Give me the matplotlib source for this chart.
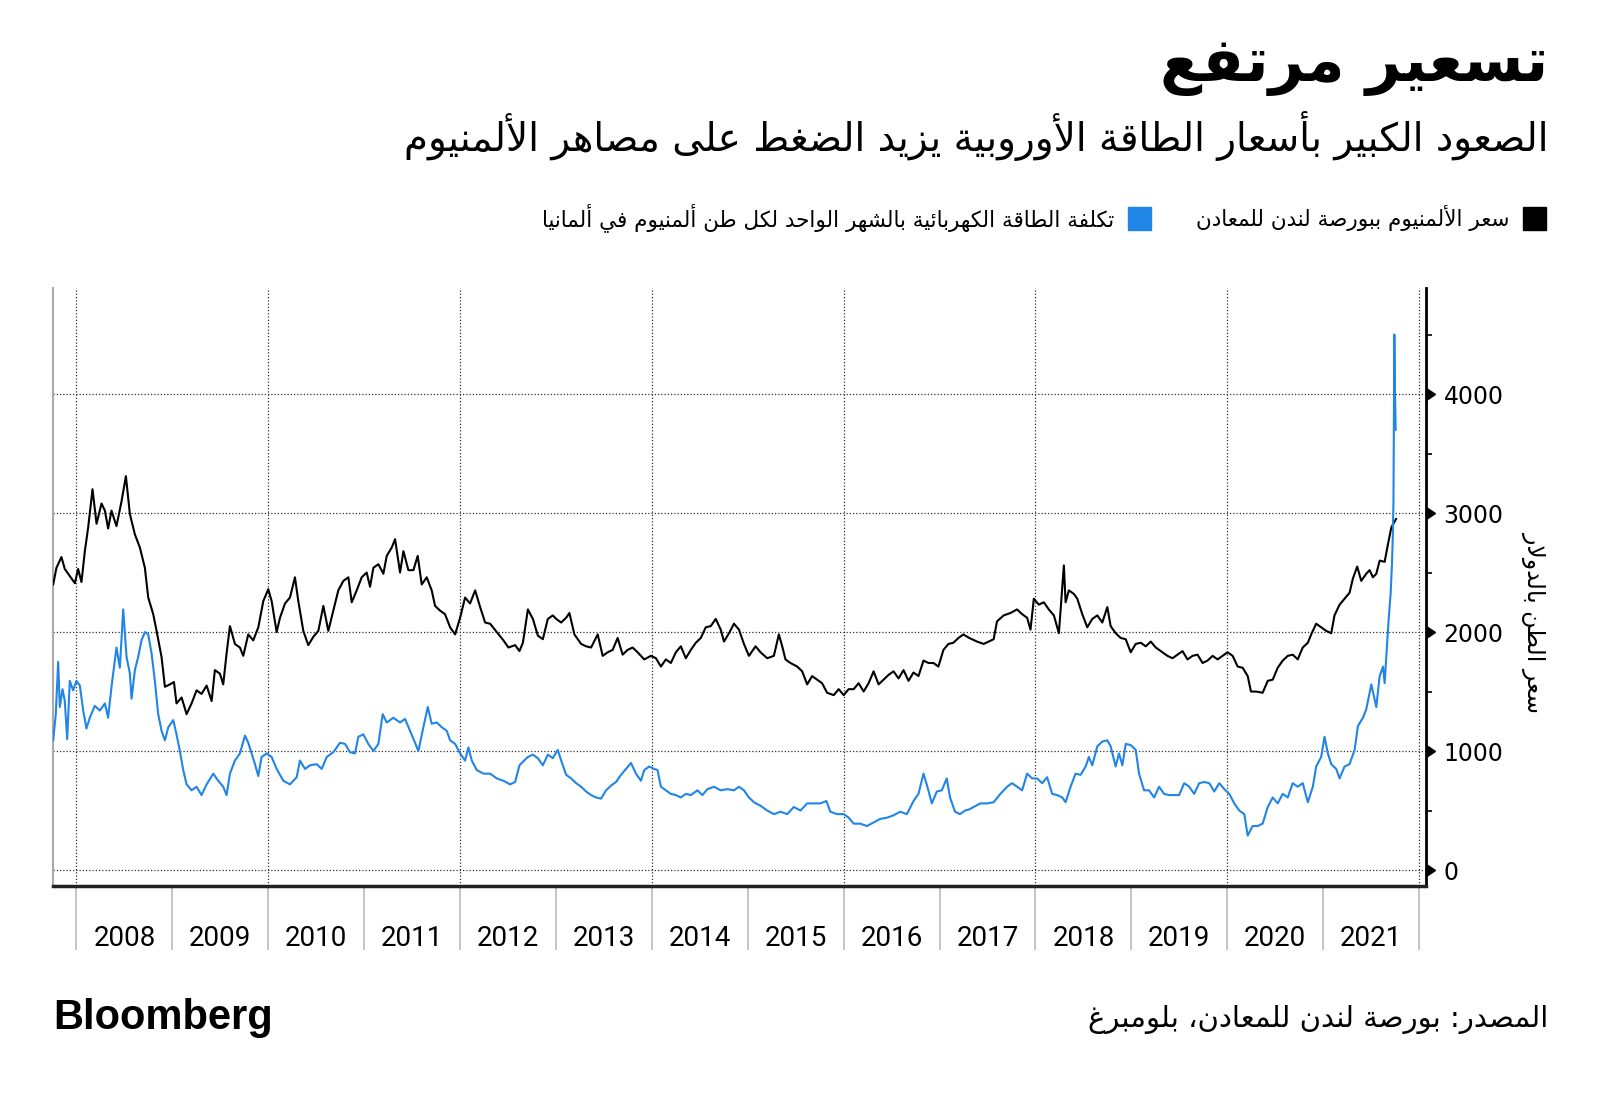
import unicodedata
import numpy as np
import matplotlib
matplotlib.use("Agg")
import matplotlib.pyplot as plt
from matplotlib.markers import CARETRIGHTBASE
from matplotlib.patches import Rectangle

# ===============================
# Data (dates as decimal years)
# ===============================
alu_t = [2007.757, 2007.791, 2007.843, 2007.878, 2007.930, 2007.983, 2008.017, 2008.052, 2008.087, 2008.122,
         2008.167, 2008.209, 2008.261, 2008.296, 2008.330, 2008.365, 2008.417, 2008.470, 2008.515, 2008.557,
         2008.609, 2008.661, 2008.713, 2008.748, 2008.800, 2008.835, 2008.887, 2008.922, 2008.974, 2009.016,
         2009.043, 2009.096, 2009.148, 2009.200, 2009.252, 2009.304, 2009.357, 2009.409, 2009.443, 2009.496,
         2009.530, 2009.565, 2009.600, 2009.652, 2009.704, 2009.739, 2009.791, 2009.843, 2009.896, 2009.948,
         2010.000, 2010.035, 2010.087, 2010.122, 2010.174, 2010.226, 2010.278, 2010.313, 2010.365, 2010.417,
         2010.470, 2010.522, 2010.574, 2010.626, 2010.678, 2010.730, 2010.783, 2010.835, 2010.870, 2010.922,
         2010.974, 2011.026, 2011.061, 2011.096, 2011.148, 2011.200, 2011.235, 2011.287, 2011.322, 2011.374,
         2011.409, 2011.461, 2011.513, 2011.558, 2011.600, 2011.652, 2011.704, 2011.739, 2011.791, 2011.843,
         2011.896, 2011.948, 2012.000, 2012.052, 2012.104, 2012.157, 2012.209, 2012.261, 2012.313, 2012.383,
         2012.452, 2012.504, 2012.574, 2012.619, 2012.655, 2012.707, 2012.759, 2012.811, 2012.863, 2012.915,
         2012.967, 2013.002, 2013.054, 2013.106, 2013.140, 2013.192, 2013.262, 2013.314, 2013.366, 2013.435,
         2013.487, 2013.539, 2013.591, 2013.643, 2013.695, 2013.747, 2013.799, 2013.851, 2013.920, 2013.990,
         2014.042, 2014.094, 2014.146, 2014.198, 2014.250, 2014.302, 2014.354, 2014.406, 2014.458, 2014.510,
         2014.562, 2014.614, 2014.666, 2014.718, 2014.752, 2014.804, 2014.856, 2014.908, 2014.960, 2015.012,
         2015.081, 2015.133, 2015.203, 2015.272, 2015.324, 2015.359, 2015.393, 2015.445, 2015.515, 2015.567,
         2015.619, 2015.671, 2015.723, 2015.775, 2015.827, 2015.896, 2015.948, 2016.000, 2016.052, 2016.104,
         2016.156, 2016.208, 2016.260, 2016.312, 2016.364, 2016.416, 2016.468, 2016.520, 2016.572, 2016.624,
         2016.676, 2016.728, 2016.780, 2016.832, 2016.884, 2016.936, 2016.988, 2017.040, 2017.092, 2017.144,
         2017.196, 2017.248, 2017.310, 2017.390, 2017.460, 2017.512, 2017.564, 2017.599, 2017.669, 2017.739,
         2017.808, 2017.861, 2017.913, 2017.948, 2017.983, 2018.035, 2018.087, 2018.139, 2018.192, 2018.244,
         2018.272, 2018.296, 2018.314, 2018.348, 2018.401, 2018.436, 2018.488, 2018.540, 2018.592, 2018.645,
         2018.697, 2018.749, 2018.784, 2018.836, 2018.889, 2018.941, 2018.993, 2019.045, 2019.098, 2019.150,
         2019.202, 2019.254, 2019.307, 2019.376, 2019.429, 2019.481, 2019.533, 2019.585, 2019.638, 2019.690,
         2019.742, 2019.794, 2019.847, 2019.899, 2019.951, 2020.003, 2020.056, 2020.108, 2020.160, 2020.213,
         2020.247, 2020.300, 2020.369, 2020.422, 2020.474, 2020.526, 2020.578, 2020.631, 2020.683, 2020.735,
         2020.787, 2020.840, 2020.875, 2020.927, 2020.979, 2021.031, 2021.084, 2021.118, 2021.171, 2021.223,
         2021.275, 2021.310, 2021.355, 2021.397, 2021.449, 2021.484, 2021.519, 2021.554, 2021.589, 2021.641,
         2021.676, 2021.711, 2021.746, 2021.760]
alu_price = [2400, 2540, 2630, 2530, 2470, 2410, 2530, 2420, 2680, 2880,
             3200, 2910, 3080, 3020, 2870, 3020, 2890, 3100, 3310, 2990,
             2820, 2710, 2540, 2290, 2150, 2010, 1790, 1540, 1560, 1580,
             1400, 1450, 1310, 1400, 1510, 1480, 1550, 1420, 1680, 1650,
             1560, 1820, 2050, 1900, 1870, 1800, 1980, 1930, 2040, 2260,
             2360, 2260, 2000, 2120, 2240, 2290, 2460, 2260, 2010, 1890,
             1960, 2010, 2220, 2010, 2180, 2350, 2430, 2460, 2250, 2350,
             2460, 2500, 2380, 2540, 2570, 2490, 2640, 2710, 2780, 2500,
             2680, 2520, 2520, 2640, 2400, 2460, 2350, 2220, 2180, 2150,
             2040, 1980, 2120, 2290, 2240, 2350, 2210, 2080, 2070, 2000,
             1930, 1870, 1890, 1840, 1910, 2190, 2110, 1970, 1940, 2110,
             2140, 2110, 2080, 2120, 2160, 1980, 1900, 1880, 1870, 1980,
             1800, 1830, 1850, 1950, 1810, 1850, 1870, 1830, 1770, 1800,
             1780, 1710, 1770, 1740, 1830, 1880, 1780, 1850, 1910, 1950,
             2040, 2050, 2110, 2020, 1920, 1990, 2070, 2020, 1900, 1800,
             1880, 1830, 1780, 1800, 1980, 1880, 1770, 1740, 1710, 1670,
             1560, 1630, 1600, 1570, 1490, 1470, 1520, 1470, 1520, 1520,
             1570, 1500, 1570, 1670, 1560, 1600, 1640, 1670, 1610, 1680,
             1590, 1660, 1630, 1760, 1740, 1740, 1710, 1850, 1900, 1910,
             1950, 1980, 1950, 1920, 1900, 1920, 1940, 2090, 2140, 2160,
             2190, 2150, 2120, 2020, 2280, 2230, 2250, 2190, 2140, 1990,
             2300, 2560, 2250, 2350, 2320, 2280, 2150, 2040, 2110, 2140,
             2080, 2210, 2050, 1990, 1950, 1940, 1830, 1900, 1910, 1880,
             1920, 1870, 1840, 1800, 1780, 1810, 1840, 1770, 1800, 1810,
             1740, 1760, 1800, 1770, 1800, 1830, 1800, 1710, 1700, 1630,
             1500, 1500, 1490, 1590, 1600, 1700, 1760, 1800, 1810, 1770,
             1870, 1910, 1980, 2070, 2040, 2010, 1990, 2140, 2230, 2280,
             2330, 2450, 2550, 2430, 2490, 2520, 2460, 2490, 2600, 2590,
             2740, 2880, 2930, 2950]

power_t = [2007.757, 2007.784, 2007.809, 2007.826, 2007.854, 2007.878, 2007.903, 2007.930, 2007.965, 2008.000,
           2008.035, 2008.070, 2008.104, 2008.139, 2008.191, 2008.243, 2008.296, 2008.330, 2008.365, 2008.417,
           2008.452, 2008.487, 2008.522, 2008.557, 2008.574, 2008.609, 2008.643, 2008.678, 2008.713, 2008.748,
           2008.783, 2008.817, 2008.852, 2008.887, 2008.922, 2008.957, 2009.009, 2009.043, 2009.078, 2009.113,
           2009.148, 2009.200, 2009.252, 2009.304, 2009.357, 2009.426, 2009.478, 2009.530, 2009.565, 2009.600,
           2009.652, 2009.704, 2009.757, 2009.791, 2009.826, 2009.861, 2009.896, 2009.930, 2009.983, 2010.035,
           2010.087, 2010.157, 2010.226, 2010.296, 2010.330, 2010.383, 2010.435, 2010.504, 2010.557, 2010.609,
           2010.678, 2010.748, 2010.800, 2010.852, 2010.904, 2010.939, 2010.991, 2011.043, 2011.096, 2011.148,
           2011.193, 2011.235, 2011.304, 2011.374, 2011.426, 2011.478, 2011.530, 2011.565, 2011.617, 2011.663,
           2011.704, 2011.757, 2011.809, 2011.861, 2011.896, 2011.948, 2012.000, 2012.052, 2012.087, 2012.122,
           2012.174, 2012.243, 2012.313, 2012.383, 2012.452, 2012.522, 2012.574, 2012.619, 2012.655, 2012.707,
           2012.759, 2012.811, 2012.863, 2012.915, 2012.967, 2013.019, 2013.054, 2013.106, 2013.158, 2013.210,
           2013.262, 2013.314, 2013.366, 2013.418, 2013.470, 2013.522, 2013.574, 2013.626, 2013.678, 2013.730,
           2013.782, 2013.834, 2013.886, 2013.920, 2013.972, 2014.024, 2014.059, 2014.094, 2014.146, 2014.198,
           2014.250, 2014.302, 2014.354, 2014.406, 2014.475, 2014.527, 2014.579, 2014.648, 2014.718, 2014.787,
           2014.856, 2014.908, 2014.960, 2015.012, 2015.064, 2015.133, 2015.203, 2015.272, 2015.341, 2015.411,
           2015.480, 2015.549, 2015.619, 2015.688, 2015.757, 2015.820, 2015.861, 2015.931, 2016.000, 2016.052,
           2016.104, 2016.173, 2016.243, 2016.312, 2016.381, 2016.451, 2016.520, 2016.589, 2016.659, 2016.728,
           2016.780, 2016.832, 2016.873, 2016.919, 2016.971, 2017.023, 2017.075, 2017.109, 2017.161, 2017.213,
           2017.265, 2017.310, 2017.355, 2017.425, 2017.495, 2017.564, 2017.634, 2017.704, 2017.756, 2017.808,
           2017.861, 2017.913, 2017.965, 2018.017, 2018.070, 2018.122, 2018.174, 2018.226, 2018.279, 2018.314,
           2018.366, 2018.418, 2018.470, 2018.523, 2018.557, 2018.592, 2018.645, 2018.697, 2018.749, 2018.784,
           2018.836, 2018.871, 2018.906, 2018.941, 2018.993, 2019.045, 2019.080, 2019.132, 2019.185, 2019.237,
           2019.289, 2019.341, 2019.394, 2019.446, 2019.498, 2019.551, 2019.603, 2019.655, 2019.707, 2019.760,
           2019.812, 2019.864, 2019.916, 2019.969, 2020.021, 2020.073, 2020.125, 2020.178, 2020.213, 2020.265,
           2020.317, 2020.369, 2020.422, 2020.474, 2020.526, 2020.578, 2020.631, 2020.683, 2020.735, 2020.787,
           2020.840, 2020.892, 2020.927, 2020.979, 2021.014, 2021.049, 2021.084, 2021.136, 2021.171, 2021.223,
           2021.275, 2021.328, 2021.362, 2021.415, 2021.449, 2021.502, 2021.554, 2021.589, 2021.624, 2021.641,
           2021.659, 2021.683, 2021.704, 2021.718, 2021.726, 2021.733, 2021.742, 2021.749, 2021.756]
power_cost = [1090, 1310, 1750, 1370, 1520, 1420, 1100, 1590, 1510, 1590,
              1550, 1340, 1190, 1280, 1380, 1340, 1400, 1280, 1540, 1870,
              1700, 2190, 1790, 1650, 1440, 1680, 1790, 1930, 2000, 1980,
              1820, 1590, 1310, 1170, 1090, 1200, 1260, 1140, 1000, 840,
              720, 670, 700, 630, 720, 810, 750, 700, 630, 810,
              920, 980, 1130, 1070, 980, 890, 790, 950, 980, 950,
              850, 750, 720, 780, 920, 850, 880, 890, 850, 950,
              990, 1070, 1060, 990, 980, 1120, 1140, 1060, 1000, 1060,
              1310, 1240, 1280, 1240, 1270, 1170, 1070, 1000, 1200, 1370,
              1230, 1240, 1200, 1170, 1090, 1060, 980, 920, 1030, 920,
              840, 810, 810, 770, 750, 720, 740, 880, 910, 950,
              970, 940, 880, 970, 940, 1010, 920, 800, 770, 730,
              700, 660, 630, 610, 600, 670, 710, 740, 800, 850,
              900, 810, 750, 840, 870, 850, 840, 700, 670, 640,
              630, 610, 640, 630, 670, 630, 680, 700, 670, 680,
              670, 700, 670, 610, 570, 540, 500, 470, 490, 470,
              530, 500, 560, 560, 560, 580, 490, 470, 470, 440,
              390, 390, 370, 400, 430, 440, 460, 490, 470, 580,
              640, 810, 700, 560, 660, 670, 770, 610, 490, 470,
              500, 510, 530, 560, 560, 570, 640, 700, 730, 700,
              670, 810, 770, 770, 730, 780, 640, 630, 610, 570,
              700, 810, 800, 870, 950, 880, 1040, 1080, 1090, 1040,
              870, 980, 880, 1060, 1050, 1010, 810, 670, 670, 610,
              700, 640, 630, 630, 630, 730, 700, 640, 730, 740,
              730, 660, 730, 680, 640, 560, 500, 470, 290, 370,
              370, 390, 530, 610, 560, 640, 610, 730, 700, 730,
              570, 700, 870, 950, 1120, 980, 890, 850, 770, 870,
              890, 1010, 1210, 1280, 1350, 1560, 1370, 1630, 1710, 1570,
              1800, 2110, 2330, 2590, 2800, 3100, 4500, 4000, 3700]

years = list(range(2008, 2022))
year_labels = [str(y) for y in years]
y_ticks = [0, 1000, 2000, 3000, 4000]

title = "تسعير مرتفع"
subtitle = "الصعود الكبير بأسعار الطاقة الأوروبية يزيد الضغط على مصاهر الألمنيوم"
legend_alu = "سعر الألمنيوم ببورصة لندن للمعادن"
legend_power = "تكلفة الطاقة الكهربائية بالشهر الواحد لكل طن ألمنيوم في ألمانيا"
y_label = "سعر الطن بالدولار"
source = "المصدر: بورصة لندن للمعادن، بلومبرغ"

BLUE = "#2185e6"

# ===============================
# Arabic shaping (presentation forms + right-to-left order)
# ===============================
FORMS, LAMALEF = {}, {}
for cp in range(0xFE70, 0xFEFD):
    dec = unicodedata.decomposition(chr(cp))
    if not dec.startswith("<"):
        continue
    tag, *codes = dec.split()
    base = "".join(chr(int(c, 16)) for c in codes)
    tag = tag.strip("<>")
    if len(base) == 1:
        FORMS.setdefault(base, {})[tag] = chr(cp)
    elif len(base) == 2 and base[0] == "\u0644":
        LAMALEF.setdefault(base[1], {})[tag] = chr(cp)


def ar(text):
    def dual(c):
        return c in FORMS and "medial" in FORMS[c]

    def joins_right(c):
        return c in FORMS and "final" in FORMS[c]

    out, i = [], 0
    while i < len(text):
        c = text[i]
        if c not in FORMS:
            out.append(c)
            i += 1
            continue
        prev = text[i - 1] if i > 0 else ""
        nxt = text[i + 1] if i + 1 < len(text) else ""
        jp = dual(prev) and joins_right(c)
        if c == "\u0644" and nxt in LAMALEF:
            out.append(LAMALEF[nxt]["final" if jp else "isolated"])
            i += 2
            continue
        jn = dual(c) and joins_right(nxt)
        form = "medial" if jp and jn else "final" if jp else "initial" if jn else "isolated"
        out.append(FORMS[c].get(form, FORMS[c]["isolated"]))
        i += 1
    return "".join(reversed(out))


# ===============================
# Figure
# ===============================
W, H = 1600, 1097
fig = plt.figure(figsize=(W / 100, H / 100), dpi=100)
ax = fig.add_axes([53 / W, 1 - 886 / H, (1425.5 - 53) / W, (886 - 288) / H])

ax.plot(alu_t, alu_price, color="black", lw=1.5, zorder=3)
ax.plot(power_t, power_cost, color=BLUE, lw=1.5, zorder=3)

ax.set_xlim(2007.755, 2022.067)
ax.set_ylim(-134, 4891)

# x axis: year labels centred, separators at year boundaries
ax.set_xticks([y + 0.5 for y in years], year_labels)
ax.set_xticks(years + [2022], minor=True)
ax.tick_params(axis="x", which="major", length=0, pad=28,
               labelsize=20, labelfontfamily="Roboto")
ax.tick_params(axis="x", which="minor", length=46, width=1.2, color="#bbbbbb")
for yr in range(2008, 2023, 2):
    ax.axvline(yr, color="#333333", lw=0.9, ls=(0, (1, 1.6)), zorder=1)

# y axis on the right
ax.yaxis.tick_right()
ax.set_yticks(y_ticks)
ax.set_yticks(np.arange(500, 5000, 1000), minor=True)
ax.tick_params(axis="y", which="major", length=0, pad=13, labelsize=17)
ax.tick_params(axis="y", which="minor", length=4, width=1.2, color="black")
ax.plot(np.ones(len(y_ticks)), y_ticks, ls="none", marker=CARETRIGHTBASE, ms=9,
        color="black", transform=ax.get_yaxis_transform(), clip_on=False)
ax.grid(axis="y", color="#333333", lw=0.9, ls=(0, (1, 1.6)), zorder=1)

ax.spines["top"].set_visible(False)
ax.spines["left"].set_color("#aaaaaa")
ax.spines["left"].set_linewidth(1.5)
ax.spines["right"].set_linewidth(2)
ax.spines["bottom"].set_linewidth(2.5)
ax.spines["bottom"].set_color("#222222")

fig.text(1534 / W, 1 - 622 / H, ar(y_label), rotation=270, ha="center", va="center",
         fontsize=17, family="DejaVu Sans")

# ===============================
# Titles, legend, footer
# ===============================
fig.text(1548 / W, 1 - 66 / H, ar(title), ha="right", va="center",
         fontsize=44, fontweight="bold", family="DejaVu Sans")
fig.text(1548 / W, 1 - 136 / H, ar(subtitle), ha="right", va="center",
         fontsize=28, family="DejaVu Sans")

fig.patches.append(Rectangle((1523 / W, 1 - 230 / H), 23 / W, 23 / H, color="black",
                             transform=fig.transFigure))
fig.text(1510 / W, 1 - 218 / H, ar(legend_alu), ha="right", va="center",
         fontsize=15.5, family="DejaVu Sans")
fig.patches.append(Rectangle((1128 / W, 1 - 230 / H), 23 / W, 23 / H, color=BLUE,
                             transform=fig.transFigure))
fig.text(1114 / W, 1 - 218 / H, ar(legend_power), ha="right", va="center",
         fontsize=15.5, family="DejaVu Sans")

fig.text(53 / W, 1 - 1018 / H, "Bloomberg", ha="left", va="center",
         fontsize=30, fontweight="bold", family="Liberation Sans")
fig.text(1548 / W, 1 - 1020 / H, ar(source), ha="right", va="center",
         fontsize=21, family="DejaVu Sans")

fig.savefig("out.png", dpi=100)
